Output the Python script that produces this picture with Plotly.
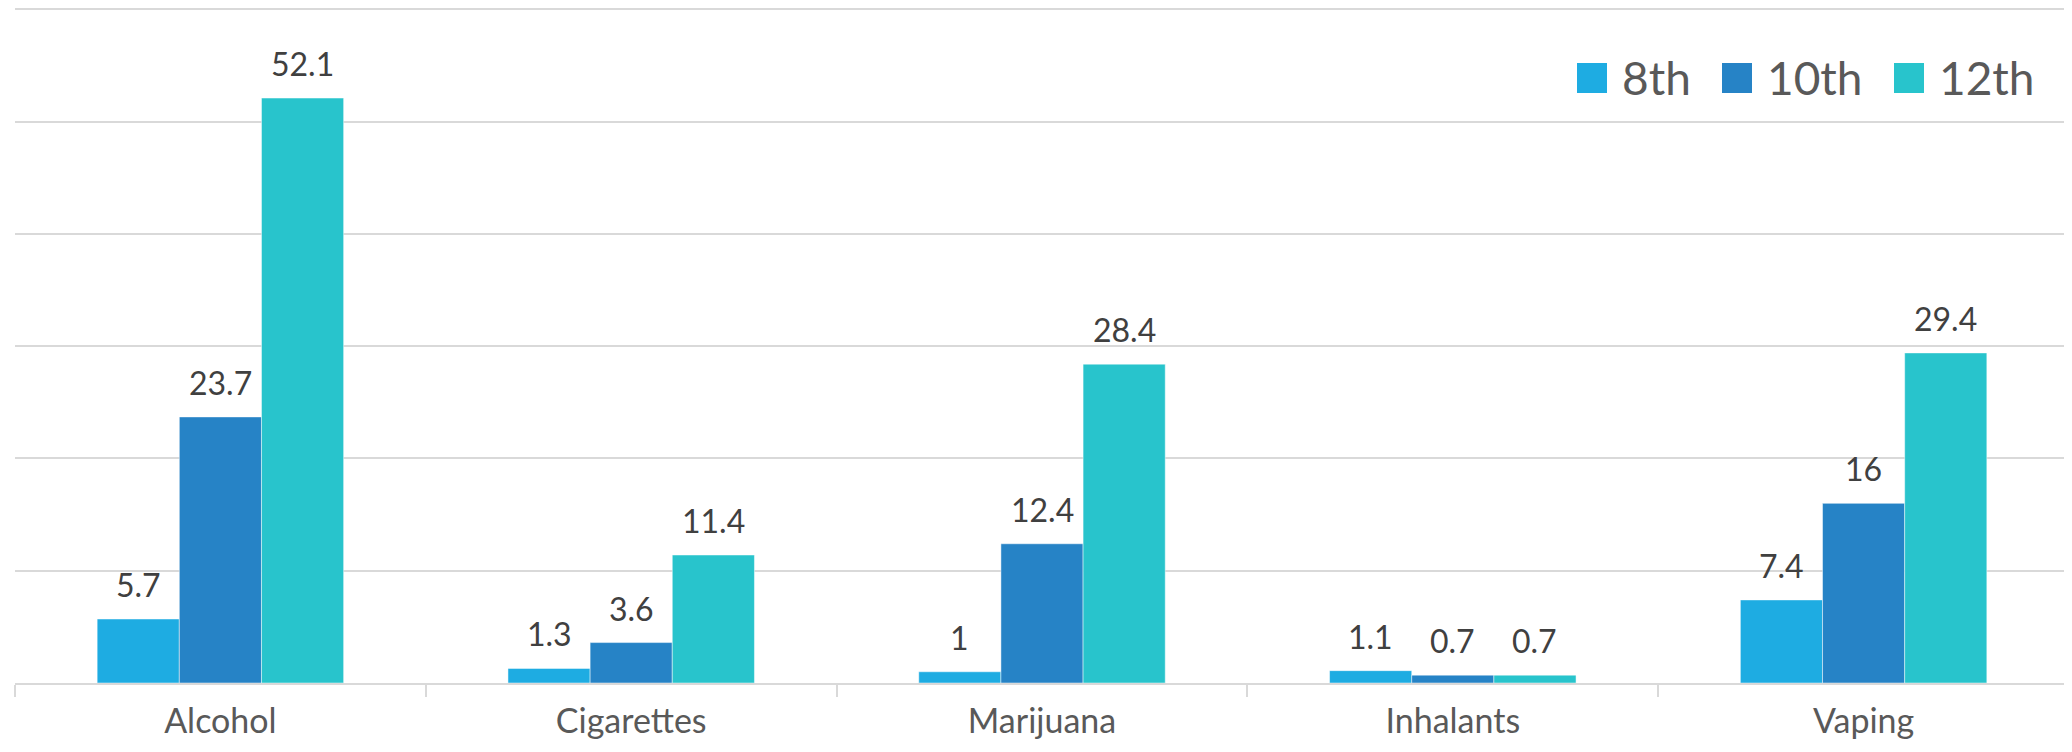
import plotly.graph_objects as go

# ---- data ----
categories = ["Alcohol", "Cigarettes", "Marijuana", "Inhalants", "Vaping"]
series_names = ["8th", "10th", "12th"]
grade8 = [5.7, 1.3, 1.0, 1.1, 7.4]
grade10 = [23.7, 3.6, 12.4, 0.7, 16.0]
grade12 = [52.1, 11.4, 28.4, 0.7, 29.4]
label8 = ["5.7", "1.3", "1", "1.1", "7.4"]
label10 = ["23.7", "3.6", "12.4", "0.7", "16"]
label12 = ["52.1", "11.4", "28.4", "0.7", "29.4"]

series_values = [grade8, grade10, grade12]
series_labels = [label8, label10, label12]
colors = ["#1EACE2", "#2683C6", "#28C4CC"]

# ---- layout constants ----
W, H = 2072, 752
OFF = 8  # page body margin
ML, MR, MT, MB = 7, 11, 0, 77
BARGAP = 0.4
FONT = "Lato"
PW = W - ML - MR
PH = H - MT - MB


def px_x(x):
    # screen px -> paper
    return (x - OFF - ML) / PW


def px_y(y):
    return (H - MB - (y - OFF)) / PH


fig = go.Figure()
for name, vals, col in zip(series_names, series_values, colors):
    fig.add_trace(go.Bar(
        x=categories, y=vals, name=name,
        marker=dict(color=col, line=dict(color="rgba(255,255,255,0.6)", width=0.8)),
        showlegend=False, hoverinfo="x+y+name",
    ))

# data labels above bars
n = len(series_names)
bw = (1 - BARGAP) / n
annotations = []
for i, (vals, labs) in enumerate(zip(series_values, series_labels)):
    for j, (v, t) in enumerate(zip(vals, labs)):
        annotations.append(dict(
            x=j + (i - (n - 1) / 2) * bw, y=v, xref="x", yref="y",
            text=t, showarrow=False, yanchor="bottom", xanchor="center",
            yshift=13, font=dict(family=FONT, size=32, color="#404040"),
        ))

# custom legend (large square swatches)
legend_sq_x = [1577, 1722, 1894]
sq = 30
sq_top, sq_bot = 63, 93
shapes = []
for name, col, x0 in zip(series_names, colors, legend_sq_x):
    shapes.append(dict(type="rect", xref="paper", yref="paper",
                       x0=px_x(x0), x1=px_x(x0 + sq),
                       y0=px_y(sq_bot), y1=px_y(sq_top),
                       fillcolor=col, line=dict(width=0)))
    annotations.append(dict(
        x=px_x(x0 + sq + 13), y=px_y(77), xref="paper", yref="paper",
        text=name, showarrow=False, xanchor="left", yanchor="middle",
        font=dict(family=FONT, size=46, color="#595959"),
    ))

fig.update_layout(
    width=W, height=H,
    margin=dict(l=ML, r=MR, t=MT, b=MB, pad=0),
    paper_bgcolor="white", plot_bgcolor="white",
    barmode="group", bargap=BARGAP, bargroupgap=0,
    showlegend=False,
    annotations=annotations, shapes=shapes,
    font=dict(family=FONT),
)
fig.update_xaxes(
    type="category", tickson="boundaries", ticks="outside", ticklen=12,
    tickwidth=2, tickcolor="#D9D9D9", showline=True, linewidth=2,
    linecolor="#D9D9D9", showgrid=False, ticklabelstandoff=7,
    tickfont=dict(family=FONT, size=34, color="#595959"),
)
fig.update_yaxes(
    range=[0, 60.12], dtick=10, showticklabels=False, showgrid=True,
    gridcolor="#D9D9D9", gridwidth=1.5, zeroline=False, showline=False,
)

fig.write_html("out.html")
